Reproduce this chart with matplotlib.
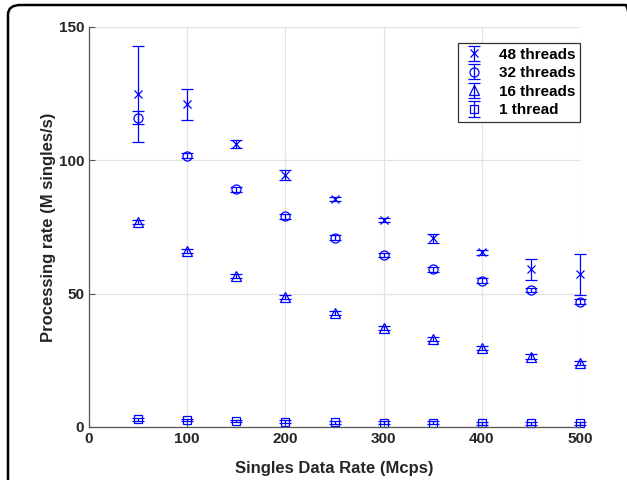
import matplotlib.pyplot as plt
from matplotlib.patches import FancyBboxPatch

plt.rcParams['font.family'] = ['Liberation Sans', 'DejaVu Sans']

# ── Data ──────────────────────────────────────────────────────────────────────
rate = [50, 100, 150, 200, 250, 300, 350, 400, 450, 500]

t48 = [125, 121, 106, 94.5, 85.5, 77.6, 70.7, 65.5, 59.1, 57.2]
t48_err = [18, 5.8, 1.5, 1.7, 0.8, 0.7, 1.7, 1.0, 3.8, 7.6]

t32 = [116, 101.7, 89.1, 79, 71, 64.5, 59.1, 54.9, 51.3, 47]
t32_err = [2.5, 1.0, 1.0, 1.0, 1.0, 0.8, 0.8, 0.8, 0.8, 1.0]

t16 = [76.8, 66, 56.5, 48.8, 42.8, 37.2, 32.9, 29.5, 26.4, 24.1]
t16_err = [0.8, 0.8, 0.8, 0.8, 0.8, 0.8, 0.8, 0.8, 0.8, 0.8]

t1 = [2.9, 2.6, 2.25, 2.0, 1.75, 1.6, 1.6, 1.4, 1.4, 1.35]
t1_err = [0.5, 0.5, 0.5, 0.5, 0.5, 0.5, 0.5, 0.5, 0.5, 0.5]

series = [
    ('48 threads', t48, t48_err, 'x', 5.5),
    ('32 threads', t32, t32_err, 'o', 6.5),
    ('16 threads', t16, t16_err, '^', 6.5),
    ('1 thread', t1, t1_err, 's', 6),
]

# ── Plotting ──────────────────────────────────────────────────────────────────
W, H = 627, 480
fig = plt.figure(figsize=(W / 100, H / 100), dpi=100)
ax = fig.add_axes([89 / W, 1 - 427 / H, (580 - 89) / W, 400 / H])

for label, vals, err, mk, size in series:
    bars = ax.errorbar(rate, vals, yerr=err, fmt=mk, color='blue', mfc='none',
                       mec='blue', ms=size, mew=0.9, elinewidth=0.9,
                       capsize=4, capthick=0.9, label=label)
    for artist in bars.lines[0:1] + bars.lines[1] + bars.lines[2]:
        artist.set_clip_on(False)

ax.set_xlim(0, 500)
ax.set_ylim(0, 150)
ax.set_xticks(range(0, 501, 100))
ax.set_yticks([0, 50, 100, 150])
ax.grid(True, color='#e3e3e3', linewidth=0.9)
ax.set_axisbelow(True)
for side in ('top', 'right'):
    ax.spines[side].set_visible(False)
for side in ('left', 'bottom'):
    ax.spines[side].set_color('#555555')
    ax.spines[side].set_linewidth(0.9)
ax.tick_params(direction='in', length=4, width=0.8, color='#555555',
               labelcolor='#262626', labelsize=11)
for lbl in ax.get_xticklabels() + ax.get_yticklabels():
    lbl.set_fontweight('bold')

ax.set_xlabel('Singles Data Rate (Mcps)', fontsize=12, fontweight='bold',
              color='#262626', labelpad=11)
ax.set_ylabel('Processing rate (M singles/s)', fontsize=12, fontweight='bold',
              color='#262626', labelpad=2)

leg = ax.legend(loc='upper right', bbox_to_anchor=(1.0, 0.96),
                borderaxespad=0, prop={'weight': 'bold', 'size': 11},
                fancybox=False, framealpha=1, edgecolor='#333333',
                handlelength=1.5, labelspacing=0.3, borderpad=0.3,
                handletextpad=0.9)
leg.get_frame().set_linewidth(0.9)

# rounded outer frame
frame = FancyBboxPatch((8 / W, -30 / H), 630 / W, (H - 5 + 30) / H,
                       boxstyle='round,pad=0,rounding_size=0.02',
                       transform=fig.transFigure, fill=False,
                       edgecolor='black', linewidth=1.8, clip_on=False)
fig.patches.append(frame)

fig.savefig('out.png', dpi=100)
